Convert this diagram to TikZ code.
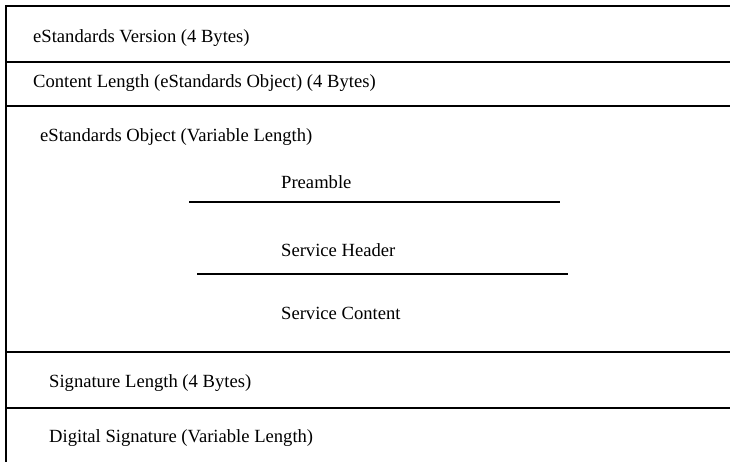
\documentclass[tikz,border=0pt]{standalone}
\usepackage{fontspec}
\setmainfont{Liberation Serif}
\begin{document}
\begin{tikzpicture}[x=1pt,y=-1pt,
  rule/.style={line width=2pt, line cap=rect},
  lbl/.style={anchor=base west, inner sep=0pt, font=\fontsize{18.6}{22}\selectfont}]
\useasboundingbox (0,0) rectangle (730,462);
% frame
\draw[rule] (6,462) -- (6,6) -- (730,6);
\draw[rule] (6,62) -- (730,62);
\draw[rule] (6,106) -- (730,106);
\draw[rule] (6,352) -- (730,352);
\draw[rule] (6,408) -- (730,408);
% inner separators
\draw[rule] (190,202) -- (559,202);
\draw[rule] (198,274) -- (567,274);
% labels
\node[lbl] (ver) at (33,43) {eStandards Version (4 Bytes)};
\node[lbl] (cl) at (33,88) {Content Length (eStandards Object) (4 Bytes)};
\node[lbl] (obj) at (40,142) {eStandards Object (Variable Length)};
\node[lbl] (pre) at (281,189) {Preamble};
\node[lbl] (sh) at (281,256) {Service Header};
\node[lbl] (sc) at (281,319) {Service Content};
\node[lbl] (sl) at (49,387) {Signature Length (4 Bytes)};
\node[lbl] (ds) at (49,442) {Digital Signature (Variable Length)};
\end{tikzpicture}
\end{document}
